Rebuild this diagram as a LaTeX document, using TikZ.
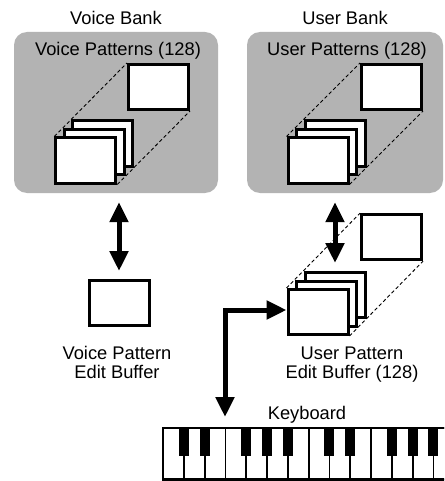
\documentclass[tikz,border=0pt]{standalone}
\usepackage{fontspec}
\setmainfont{Liberation Sans}
\usetikzlibrary{arrows.meta,backgrounds}
\definecolor{bankgray}{RGB}{179,179,179}
\tikzset{
  bank/.style={fill=bankgray,rounded corners=13pt,minimum height=161pt,inner sep=0pt},
  patbox/.style={draw,fill=white,line width=3pt,minimum width=60pt,minimum height=45pt,inner sep=0pt},
  txt/.style={font=\fontsize{18.3}{19}\selectfont,inner sep=0pt},
  copyline/.style={dash pattern=on 3.5pt off 2.5pt,line width=0.9pt},
  dblarrow/.style={{Triangle[length=20pt,width=18pt]}-{Triangle[length=20pt,width=18pt]},line width=5pt},
  keyline/.style={line width=1.8pt}
}
\begin{document}
\begin{tikzpicture}[x=1pt,y=-1pt]
\useasboundingbox (0,0) rectangle (444,481);
% banks
\begin{scope}[on background layer]
\node[bank,minimum width=204pt] (vbank) at (116,112.5) {};
\node[bank,minimum width=196pt] (ubank) at (345,112.5) {};
\end{scope}
\node[txt,anchor=base] (vbanktitle) at (116,25) {Voice Bank};
\node[txt,anchor=base] (ubanktitle) at (345,25) {User Bank};
\node[txt,anchor=base] (vpats) at (118,56) {Voice Patterns (128)};
\node[txt,anchor=base] (upats) at (347,56) {User Patterns (128)};
% pattern stacks
\node[patbox] (vsingle) at (158.5,87) {};
\node[patbox] (usingle) at (391.5,87) {};
\node[patbox] (esingle) at (391.5,237.2) {};
\foreach \k/\n in {2/back,1/mid,0/front}{
  \node[patbox] (v\n) at (85.8+8.5*\k,160.5-8.5*\k) {};
  \node[patbox] (u\n) at (318+8.5*\k,160.5-8.5*\k) {};
  \node[patbox] (e\n) at (318+8.5*\k,312-8.5*\k) {};
}
\begin{scope}[on background layer]
\draw[copyline] (vfront.north west)--(vsingle.north west) (vfront.south east)--(vsingle.south east);
\draw[copyline] (ufront.north west)--(usingle.north west) (ufront.south east)--(usingle.south east);
\draw[copyline] (efront.north west)--(esingle.north west) (efront.south east)--(esingle.south east);
\end{scope}
% edit buffers
\node[patbox] (vedit) at (119,302.5) {};
\node[txt,anchor=base,align=center] (veditlbl) at (117,378) {Voice Pattern\\Edit Buffer};
\node[txt,anchor=base,align=center] (eeditlbl) at (352,378) {User Pattern\\Edit Buffer (128)};
\draw[dblarrow,shorten <=9pt,shorten >=7.5pt] (vedit.north |- vbank.south) -- (vedit.north);
\draw[dblarrow,shorten <=9pt,shorten >=8pt] (eback.north |- ubank.south) -- (eback.north);
% keyboard
\node[txt,anchor=base] (kbdlbl) at (307,419) {Keyboard};
\coordinate (kbdin) at (225,417);
\draw[dblarrow] (kbdin) |- ([yshift=2pt]efront.west);
\begin{scope}
\clip (0,0) rectangle (444,481);
\foreach \i in {0,...,13} \draw[keyline] (163+20.8*\i,428) rectangle ++(20.8,51.5);
\foreach \j in {1,2,4,5,6,8,9,11,12,13} \fill (163+20.8*\j-5,428) rectangle ++(10,28);
\draw[line width=2.6pt] (460,428) -- (163,428) -- (163,479.5) -- (460,479.5);
\end{scope}
\end{tikzpicture}
\end{document}
